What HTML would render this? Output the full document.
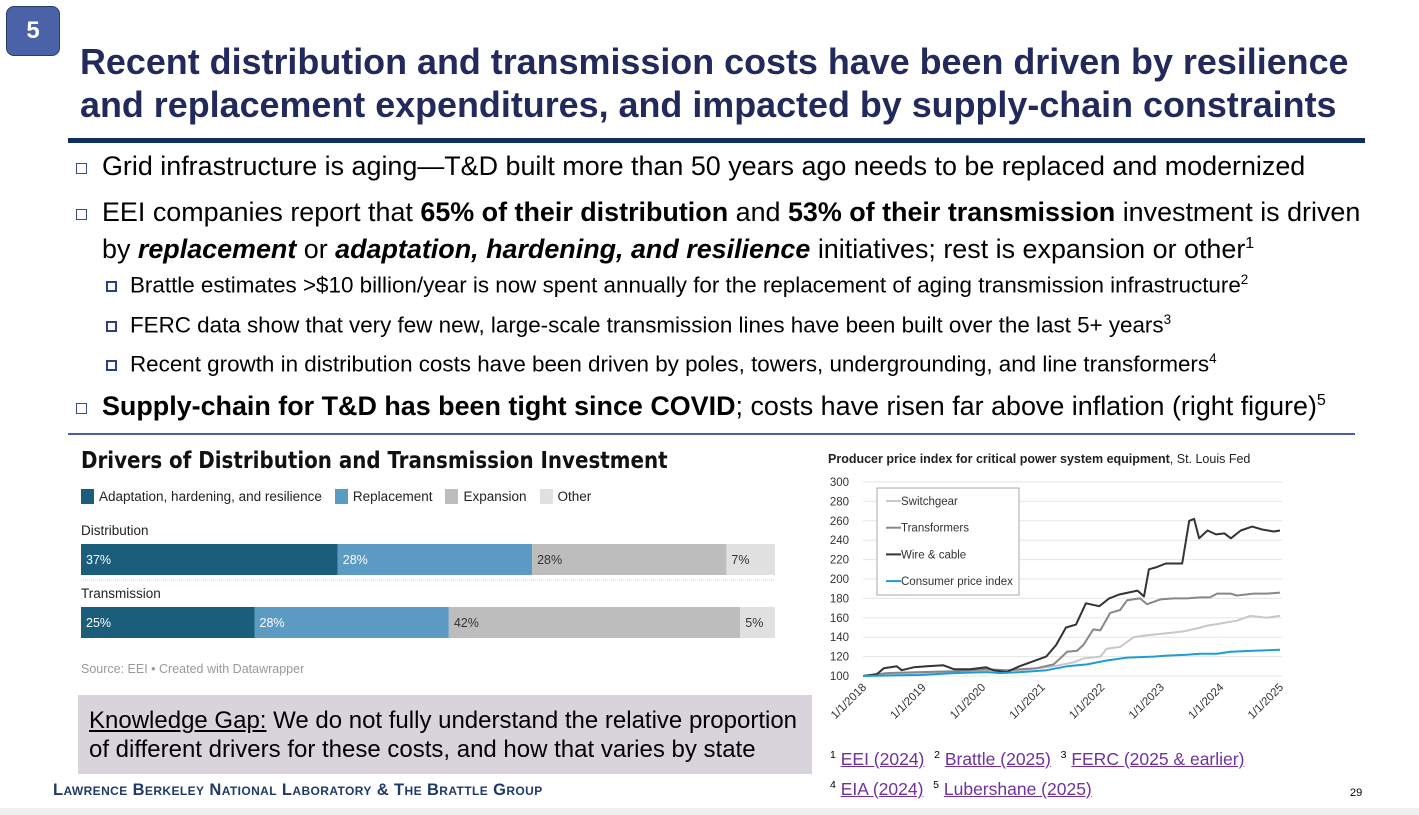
<!DOCTYPE html>
<html><head><meta charset="utf-8"><style>
body{margin:0;width:1419px;height:815px;overflow:hidden;background:#fff;font-family:"Liberation Sans",sans-serif;position:relative}
.a{position:absolute;white-space:nowrap}
.t{color:#222a5c;font-weight:bold;font-size:35.9px;left:80px;line-height:43px}
.b{font-size:26.9px;color:#000;left:102px}
.s{font-size:22.4px;color:#000;left:130px}
.bx{position:absolute;width:9px;height:9px;border:1.3px solid #3b4a8a}
.sb{position:absolute;width:7px;height:7px;border:2.5px solid #2c3d8a}
sup{font-size:0.6em}
.fn{color:#7030a0;text-decoration:underline}
</style></head><body>
<div class="a" style="left:6px;top:6px;width:52px;height:48px;background:#4a63a8;border:1.5px solid #2a3a70;border-radius:8px;color:#fff;font-weight:bold;font-size:24px;text-align:center;line-height:48px">5</div>
<div class="a t" style="top:41px">Recent distribution and transmission costs have been driven by resilience<br>and replacement expenditures, and impacted by supply-chain constraints</div>
<div class="a" style="left:68px;top:138px;width:1297px;height:5px;background:#0d2d63"></div>

<div class="bx" style="left:76px;top:163px"></div>
<div class="a b" style="top:151px">Grid infrastructure is aging—T&amp;D built more than 50 years ago needs to be replaced and modernized</div>
<div class="bx" style="left:76px;top:209px"></div>
<div class="a b" style="top:197px;line-height:31px">EEI companies report that <b>65% of their distribution</b> and <b>53% of their transmission</b> investment is driven<br>by <b><i>replacement</i></b> or <b><i>adaptation, hardening, and resilience</i></b> initiatives; rest is expansion or other<sup>1</sup></div>
<div class="sb" style="left:106px;top:281px"></div>
<div class="a s" style="top:272px">Brattle estimates &gt;$10 billion/year is now spent annually for the replacement of aging transmission infrastructure<sup>2</sup></div>
<div class="sb" style="left:106px;top:321px"></div>
<div class="a s" style="top:312px">FERC data show that very few new, large-scale transmission lines have been built over the last 5+ years<sup>3</sup></div>
<div class="sb" style="left:106px;top:360px"></div>
<div class="a s" style="top:351px">Recent growth in distribution costs have been driven by poles, towers, undergrounding, and line transformers<sup>4</sup></div>
<div class="bx" style="left:76px;top:403px"></div>
<div class="a b" style="top:391px"><b>Supply-chain for T&amp;D has been tight since COVID</b>; costs have risen far above inflation (right figure)<sup>5</sup></div>
<div class="a" style="left:68px;top:433px;width:1287px;height:2px;background:#4a5fa0"></div>

<!-- bar chart -->
<div class="a" style="left:81px;top:448px;font-size:23px;font-weight:bold;color:#111;font-family:'DejaVu Sans Condensed','Liberation Sans Narrow',sans-serif;transform:scaleX(0.96);transform-origin:left">Drivers of Distribution and Transmission Investment</div>
<div id="legend" class="a" style="left:81px;top:489px;font-size:13.5px;color:#222"></div>
<svg class="a" id="bars" style="left:0;top:0" width="800" height="690"></svg>
<div class="a" style="left:81px;top:662px;font-size:12.5px;color:#999">Source: EEI • Created with Datawrapper</div>

<div class="a" style="left:78px;top:695px;width:734px;height:79px;background:#d9d3dc"></div>
<div class="a" style="left:89px;top:706px;font-size:24px;line-height:29px;color:#000"><u>Knowledge Gap:</u> We do not fully understand the relative proportion<br>of different drivers for these costs, and how that varies by state</div>

<div class="a" style="left:53px;top:781px;font-size:16.5px;font-weight:bold;color:#1f3a6a;font-variant:small-caps;letter-spacing:0.4px">Lawrence Berkeley National Laboratory &amp; The Brattle Group</div>
<div class="a" style="left:830px;top:749px;font-size:17.5px"><sup>1</sup> <span class="fn">EEI (2024)</span>&nbsp; <sup>2</sup> <span class="fn">Brattle (2025)</span>&nbsp; <sup>3</sup> <span class="fn">FERC (2025 &amp; earlier)</span></div>
<div class="a" style="left:830px;top:779px;font-size:17.5px"><sup>4</sup> <span class="fn">EIA (2024)</span>&nbsp; <sup>5</sup> <span class="fn">Lubershane (2025)</span></div>
<div class="a" style="left:1350px;top:787px;font-size:11px">29</div>
<div class="a" style="left:0;top:808px;width:1419px;height:7px;background:#f0f0f0"></div>

<svg class="a" id="line" style="left:820px;top:445px" width="480" height="300"></svg>

<script>
// ---- bar chart data ----
const barRows = ["Distribution","Transmission"];
const barSeries = ["Adaptation, hardening, and resilience","Replacement","Expansion","Other"];
const distValues = [37,28,28,7];
const transValues = [25,28,42,5];
const barColors = ["#1a5e7c","#5b9bc4","#bdbdbd","#e0e0e0"];

// ---- line chart data (x in months since 1/1/2018) ----
const xTickLabels = ["1/1/2018","1/1/2019","1/1/2020","1/1/2021","1/1/2022","1/1/2023","1/1/2024","1/1/2025"];
const yTicks = [100,120,140,160,180,200,220,240,260,280,300];
const seriesNames = ["Switchgear","Transformers","Wire & cable","Consumer price index"];
const wireMonths = [0,2.8,4.2,6.8,7.8,10.2,12.9,16.2,18.3,21.6,24.8,26.2,28.9,31.5,34.2,36.9,38.9,40.9,42.9,44.9,47.6,49.6,51.6,55.3,56.6,57.6,59.0,61.0,64.3,65.7,66.7,67.7,69.4,71.1,72.8,74.1,76.1,78.4,80.4,82.8,84];
const wireValues = [100,102,108,110,106,109,110,111,107,107,109,106,104,110,115,120,132,150,153,175,172,180,184,188,182,210,212,216,216,260,262,242,250,246,247,242,250,254,251,249,250];
const transfMonths = [0,4.8,11.5,18.3,25,29,31.7,35,38.4,39.7,41.1,43.1,44.4,46.4,47.8,49.8,51.8,53.2,55.8,57.2,59.9,62.6,65.2,67.9,69.9,71.3,74,75.3,78.7,81.3,84];
const transfValues = [100,103,104,105,107,106,107,108,112,118,125,126,132,148,147,165,168,178,180,174,179,180,180,181,181,185,185,183,185,185,186];
const switchMonths = [0,11.5,25,31.7,38.4,42.4,44.4,47.8,49.1,51.8,54.5,57.2,61.2,64.6,67.2,69.3,71.9,75.3,78,81.3,84];
const switchValues = [100,103,106,106,110,114,118,120,128,130,140,142,144,146,149,152,154,157,162,160,162];
const cpiMonths = [0,11.5,18.3,25,27.7,31.7,37,41.1,45.1,49.1,53.2,58.5,61.2,65.2,67.9,71.3,74,78.7,84];
const cpiValues = [100,101,103,104,103,104,106,110,112,116,119,120,121,122,123,123,125,126,127];

const NS="http://www.w3.org/2000/svg";
function mk(p,tag,at){const e=document.createElementNS(NS,tag);for(const k in at)e.setAttribute(k,at[k]);p.appendChild(e);return e;}

// legend
const lg=document.getElementById('legend');
barSeries.forEach((s,i)=>{
  const sw=document.createElement('span');
  
  
  sw.style.cssText=`display:inline-block;width:13px;height:15px;background:${barColors[i]};vertical-align:-3px;margin-right:5px`;
  lg.appendChild(sw);
  const tx=document.createElement('span');
  
  
  tx.textContent=s;tx.style.marginRight='13px';
  lg.appendChild(tx);
});

// bars
const bs=document.getElementById('bars');
const bx0=81,bw=694;
const sx=v=>v/100*bw;
const rowsVals=[distValues,transValues],rowTop=[544,607];
barRows.forEach((r,ri)=>{
  const lb=mk(bs,'text',{x:bx0,y:rowTop[ri]-9,'font-size':13.5,fill:'#222','font-family':'Liberation Sans, sans-serif'});
  lb.textContent=r;
  
  
  let acc=0;
  rowsVals[ri].forEach((v,i)=>{
    const rc=mk(bs,'rect',{x:bx0+sx(acc),y:rowTop[ri],width:sx(v),height:31,fill:barColors[i]});
    
    
    const t=mk(bs,'text',{x:bx0+sx(acc)+5,y:rowTop[ri]+20,'font-size':12.5,fill:i<2?'#fff':'#333','font-family':'Liberation Sans, sans-serif'});
    t.textContent=v+'%';
    
    
    acc+=v;
  });
});
mk(bs,'line',{x1:bx0,x2:bx0+bw,y1:580,y2:580,stroke:'#ccc','stroke-dasharray':'1,1'});

// line chart
const ls=document.getElementById('line');
const X0=43,X1=460,Y0=231,Y1=37;
const xs=m=>X0+m/84*(X1-X0);
const ys=v=>Y0-(v-100)/200*(Y0-Y1);
mk(ls,'text',{x:8,y:18,'font-size':12.5,'font-family':'Liberation Sans, sans-serif',fill:'#222'}).innerHTML='<tspan font-weight="bold">Producer price index for critical power system equipment</tspan>, St. Louis Fed';
yTicks.forEach(v=>{
  const g=mk(ls,'line',{x1:X0,x2:X1+2,y1:ys(v),y2:ys(v),stroke:'#e6e6e6'});
  
  
  const t=mk(ls,'text',{x:29,y:ys(v)+4,'font-size':11.5,'text-anchor':'end',fill:'#333','font-family':'Liberation Sans, sans-serif'});
  t.textContent=v;
  
  
});
xTickLabels.forEach((l,i)=>{
  const x=xs(i*12);
  const t=mk(ls,'text',{x:x+4,y:Y0+12,'font-size':11.5,'text-anchor':'end',fill:'#333','font-family':'Liberation Sans, sans-serif',transform:`rotate(-45 ${x+4} ${Y0+12})`});
  t.textContent=l;
  
  
});
const lineCols=["#c8c8c8","#888888","#333333","#1f9bd7"];
const allM=[switchMonths,transfMonths,wireMonths,cpiMonths],allV=[switchValues,transfValues,wireValues,cpiValues];
allM.forEach((ms,si)=>{
  const d=ms.map((m,i)=>(i?'L':'M')+xs(m).toFixed(1)+','+ys(allV[si][i]).toFixed(1)).join('');
  const p=mk(ls,'path',{d:d,fill:'none',stroke:lineCols[si],'stroke-width':2,'stroke-linejoin':'round'});
  
  
});
const box=mk(ls,'rect',{x:57,y:43,width:142,height:107,fill:'#fff',stroke:'#aaa'});


seriesNames.forEach((n,i)=>{
  const y=56+i*26.7;
  mk(ls,'line',{x1:66,x2:81,y1:y,y2:y,stroke:lineCols[i],'stroke-width':2});
  const t=mk(ls,'text',{x:81,y:y+4,'font-size':11.5,fill:'#333','font-family':'Liberation Sans, sans-serif'});
  t.textContent=n;
  
  
});
</script>
</body></html>
